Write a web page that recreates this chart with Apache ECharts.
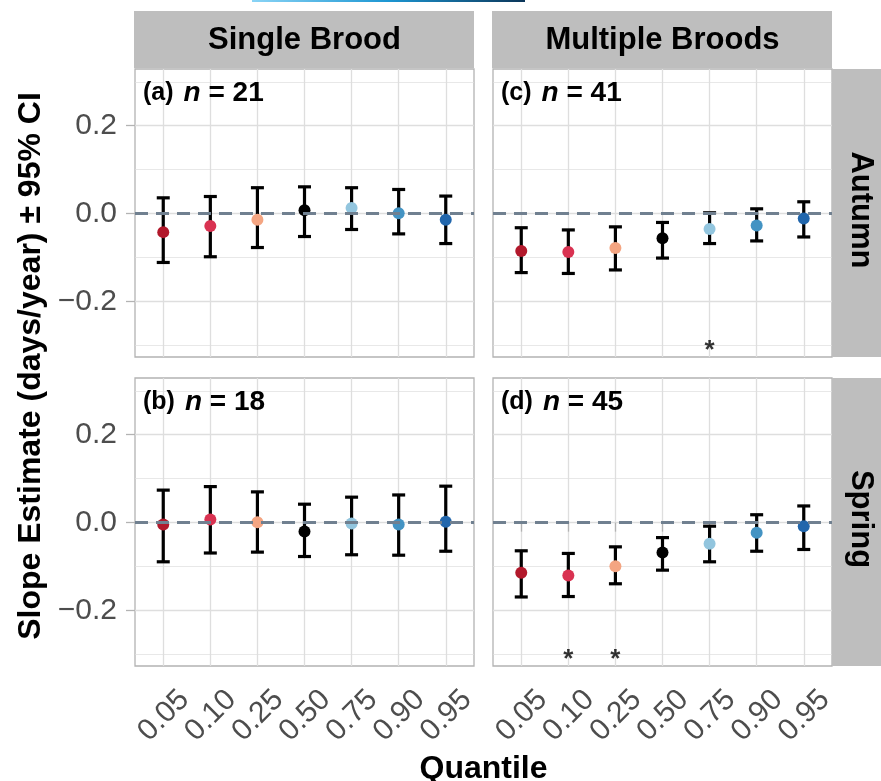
<!DOCTYPE html>
<html>
<head>
<meta charset="utf-8">
<script src="https://cdn.jsdelivr.net/npm/echarts@6/dist/echarts.min.js"></script>
<style>
html,body{margin:0;padding:0;background:#fff;}
#chart{width:881px;height:781px;}
</style>
</head>
<body>
<div id="chart"></div>
<script>
// ---------- data ----------
const quantiles = ['0.05', '0.10', '0.25', '0.50', '0.75', '0.90', '0.95'];
const yTickLabels = [-0.2, 0.0, 0.2];
const yMinorTicks = [-0.3, -0.1, 0.1, 0.3];
const pointColors = ['#B2182B', '#D93251', '#F4A582', '#000000', '#92C5DE', '#4393C3', '#2166AC'];

const columnNames = ['Single Brood', 'Multiple Broods'];
const rowNames = ['Autumn', 'Spring'];

// (a) Single Brood, Autumn
const singleAutumnEst = [-0.042, -0.028, -0.014, 0.008, 0.013, 0.001, -0.014];
const singleAutumnLo  = [-0.111, -0.098, -0.077, -0.052, -0.036, -0.046, -0.068];
const singleAutumnHi  = [0.036, 0.039, 0.059, 0.061, 0.059, 0.055, 0.040];
// (b) Single Brood, Spring
const singleSpringEst = [-0.004, 0.007, 0.001, -0.020, -0.002, -0.004, 0.002];
const singleSpringLo  = [-0.089, -0.069, -0.067, -0.077, -0.073, -0.074, -0.065];
const singleSpringHi  = [0.074, 0.082, 0.070, 0.042, 0.058, 0.063, 0.083];
// (c) Multiple Broods, Autumn
const multiAutumnEst = [-0.085, -0.087, -0.078, -0.056, -0.035, -0.027, -0.011];
const multiAutumnLo  = [-0.134, -0.136, -0.128, -0.101, -0.068, -0.062, -0.053];
const multiAutumnHi  = [-0.032, -0.037, -0.030, -0.020, 0.002, 0.011, 0.027];
// (d) Multiple Broods, Spring
const multiSpringEst = [-0.114, -0.120, -0.099, -0.068, -0.048, -0.023, -0.008];
const multiSpringLo  = [-0.169, -0.168, -0.139, -0.108, -0.089, -0.065, -0.061];
const multiSpringHi  = [-0.064, -0.070, -0.055, -0.034, -0.008, 0.018, 0.038];

// significance markers
const multiAutumnStars = ['0.75'];
const multiSpringStars = ['0.10', '0.25'];
const starLevel = -0.3;

const panelTags = ['(a)', '(c)', '(b)', '(d)'];
const panelN = [21, 41, 18, 45];

// ---------- layout ----------
const FONT = '"Liberation Sans", Arial, Helvetica, sans-serif';
const Y_MIN = -0.326, Y_MAX = 0.329;
const X_MIN = 0.4, X_MAX = 7.6;
const LABEL_SHIFT = 0.45;

const panels = [
  { est: singleAutumnEst, lo: singleAutumnLo, hi: singleAutumnHi, stars: [],               left: 135, top: 69,  width: 339, height: 288, col: 0, row: 0 },
  { est: multiAutumnEst,  lo: multiAutumnLo,  hi: multiAutumnHi,  stars: multiAutumnStars, left: 493, top: 69,  width: 339, height: 288, col: 1, row: 0 },
  { est: singleSpringEst, lo: singleSpringLo, hi: singleSpringHi, stars: [],               left: 135, top: 378, width: 339, height: 288, col: 0, row: 1 },
  { est: multiSpringEst,  lo: multiSpringLo,  hi: multiSpringHi,  stars: multiSpringStars, left: 493, top: 378, width: 339, height: 288, col: 1, row: 1 }
];

const grids = [], xAxes = [], yAxes = [], series = [], graphics = [];
const gridLineColor = '#DEDEDE';
const axisGrey = '#B3B3B3';
const labelGrey = '#4D4D4D';
const catPositions = quantiles.map((q, i) => i + 1);

panels.forEach((p, i) => {
  const isBottom = p.row === 1, isLeft = p.col === 0;
  grids.push({
    left: p.left, top: p.top, width: p.width, height: p.height,
    show: true, backgroundColor: '#FFFFFF', borderColor: axisGrey, borderWidth: 1.3,
    containLabel: false
  });
  xAxes.push({
    type: 'value', gridIndex: i, min: X_MIN, max: X_MAX,
    axisLine: { show: false },
    axisTick: { show: isBottom, customValues: catPositions, length: 9, lineStyle: { color: axisGrey, width: 1.3 } },
    axisLabel: {
      show: isBottom, customValues: catPositions.map(v => v + LABEL_SHIFT),
      rotate: 45, margin: 29, fontSize: 30, color: labelGrey, fontFamily: FONT,
      formatter: v => quantiles[Math.round(v - LABEL_SHIFT) - 1]
    },
    splitLine: { show: true, lineStyle: { color: gridLineColor, width: 1.3 } }
  });
  yAxes.push({
    type: 'value', gridIndex: i, min: Y_MIN, max: Y_MAX, position: 'left',
    axisLine: { show: false },
    axisTick: { show: isLeft, customValues: yTickLabels, length: 9, lineStyle: { color: axisGrey, width: 1.3 } },
    axisLabel: {
      show: isLeft, customValues: yTickLabels, margin: 18, fontSize: 30, color: labelGrey, fontFamily: FONT,
      formatter: v => (Math.abs(v) < 1e-9 ? '0.0' : (v < 0 ? '\u2212' : '') + Math.abs(v).toFixed(1))
    },
    splitLine: { show: true, lineStyle: { color: gridLineColor, width: 1.3 } }
  });
  yAxes.push({
    type: 'value', gridIndex: i, min: Y_MIN, max: Y_MAX, position: 'right',
    axisLine: { show: false },
    axisTick: { show: false, customValues: yMinorTicks },
    axisLabel: { show: false, customValues: yMinorTicks },
    splitLine: { show: true, lineStyle: { color: gridLineColor, width: 0.7 } }
  });

  // zero reference line + significance stars
  series.push({
    type: 'scatter', xAxisIndex: i, yAxisIndex: 2 * i, z: 1,
    symbolSize: 0, silent: true,
    data: p.stars.map(q => [quantiles.indexOf(q) + 1, starLevel]),
    label: { show: true, position: 'inside', formatter: '*', color: '#000', fontSize: 26, fontWeight: 'bold', fontFamily: FONT, offset: [0, 5] },
    markLine: {
      silent: true, symbol: 'none', animation: false,
      label: { show: false },
      lineStyle: { type: [13, 8], color: '#708090', width: 3 },
      data: [{ yAxis: 0 }]
    }
  });
  // error bars
  series.push({
    type: 'custom', xAxisIndex: i, yAxisIndex: 2 * i, z: 2,
    data: quantiles.map((q, k) => [k + 1, p.lo[k], p.hi[k]]),
    renderItem: (params, api) => {
      const x = api.value(0);
      const top = api.coord([x, api.value(2)]);
      const bot = api.coord([x, api.value(1)]);
      const hw = 6.5;
      const st = { stroke: '#000', lineWidth: 3.2, fill: null };
      return {
        type: 'group', children: [
          { type: 'line', shape: { x1: top[0], y1: top[1], x2: bot[0], y2: bot[1] }, style: st },
          { type: 'line', shape: { x1: top[0] - hw, y1: top[1], x2: top[0] + hw, y2: top[1] }, style: st },
          { type: 'line', shape: { x1: bot[0] - hw, y1: bot[1], x2: bot[0] + hw, y2: bot[1] }, style: st }
        ]
      };
    }
  });
  // point estimates
  series.push({
    type: 'scatter', xAxisIndex: i, yAxisIndex: 2 * i, z: 3,
    symbol: 'circle', symbolSize: 12,
    data: quantiles.map((q, k) => ({ value: [k + 1, p.est[k]], itemStyle: { color: pointColors[k], opacity: 1 } }))
  });

  // panel tag text
  graphics.push({
    type: 'text', left: p.left + 8, top: p.top + 10, z: 10,
    style: {
      text: '{t|' + panelTags[i] + '}{n|n}{u| = ' + panelN[i] + '}',
      rich: {
        t: { fontSize: 25, fontWeight: 'bold', fontFamily: FONT, fill: '#000' },
        n: { fontSize: 28, fontWeight: 'bold', fontStyle: 'italic', fontFamily: FONT, fill: '#000', padding: [0, 0, 0, 10] },
        u: { fontSize: 28, fontWeight: 'bold', fontFamily: FONT, fill: '#000' }
      }
    }
  });
});

// column strips
[[135, 339], [493, 339]].forEach((s, c) => {
  graphics.push({ type: 'rect', shape: { x: s[0] - 1, y: 11, width: s[1] + 1, height: 57 }, style: { fill: '#BEBEBE' }, z: 5 });
  graphics.push({ type: 'text', x: s[0] + s[1] / 2, y: 40, z: 6,
    style: { text: columnNames[c], fontSize: 31, fontWeight: 'bold', fontFamily: FONT, fill: '#000', align: 'center', verticalAlign: 'middle' } });
});
// row strips
[[69, 288], [378, 288]].forEach((s, r) => {
  graphics.push({ type: 'rect', shape: { x: 832, y: s[0], width: 49, height: s[1] }, style: { fill: '#BEBEBE' }, z: 5 });
  graphics.push({ type: 'text', x: 861, y: s[0] + s[1] / 2 - 3, rotation: -Math.PI / 2, z: 6,
    style: { text: rowNames[r], fontSize: 31, fontWeight: 'bold', fontFamily: FONT, fill: '#000', align: 'center', verticalAlign: 'middle' } });
});
// axis titles
graphics.push({ type: 'text', x: 31, y: 366, rotation: Math.PI / 2, z: 6,
  style: { text: 'Slope Estimate (days/year) \u00B1 95% CI', fontSize: 32, fontWeight: 'bold', fontFamily: FONT, fill: '#000', align: 'center', verticalAlign: 'middle' } });
graphics.push({ type: 'text', x: 483.5, y: 769, z: 6,
  style: { text: 'Quantile', fontSize: 32, fontWeight: 'bold', fontFamily: FONT, fill: '#000', align: 'center', verticalAlign: 'middle' } });
// thin gradient bar at very top
graphics.push({ type: 'rect', shape: { x: 252, y: 0, width: 273, height: 2 }, z: 6,
  style: { fill: new echarts.graphic.LinearGradient(0, 0, 1, 0, [
    { offset: 0, color: '#8AD4F6' }, { offset: 0.5, color: '#1C96D2' }, { offset: 1, color: '#0B3558' }]) } });

const chart = echarts.init(document.getElementById('chart'), null, { renderer: 'canvas' });
chart.setOption({
  animation: false,
  backgroundColor: '#FFFFFF',
  textStyle: { fontFamily: FONT },
  grid: grids, xAxis: xAxes, yAxis: yAxes, series: series, graphic: graphics
});
</script>
</body>
</html>
